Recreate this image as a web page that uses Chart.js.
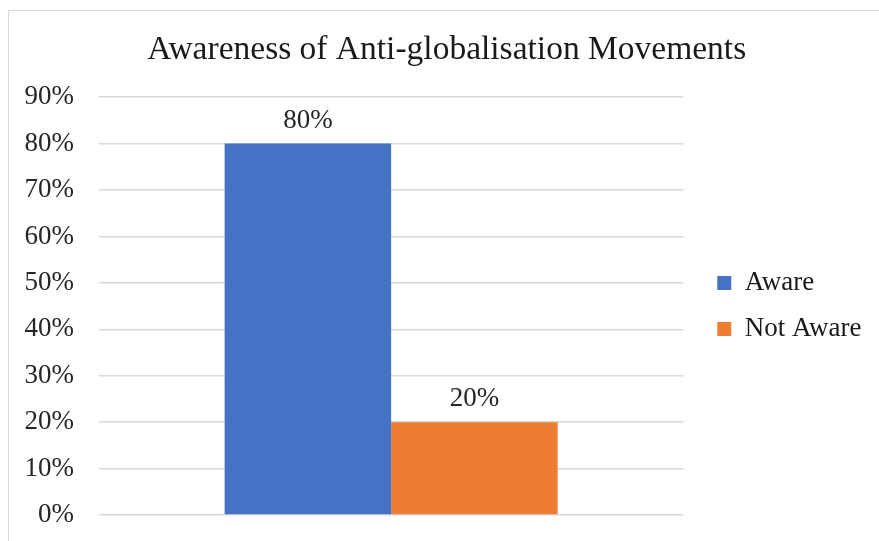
<!DOCTYPE html>
<html>
<head>
<meta charset="utf-8">
<script src="https://cdn.jsdelivr.net/npm/chart.js@4/dist/chart.umd.min.js"></script>
<style>
  body { margin: 0; background: #fff; overflow: hidden; }
  #wrap { position: relative; width: 879px; height: 541px; overflow: hidden; }
  #frame {
    position: absolute; left: 8px; top: 10px; width: 900px; height: 600px;
    border: 1px solid #d9d9d9; pointer-events: none;
  }
</style>
</head>
<body>
<div id="wrap">
  <canvas id="awarenessChart" width="900" height="541"></canvas>
  <div id="frame"></div>
</div>
<script>
// === Data ===
const categories = [''];
const seriesNames = ['Aware', 'Not Aware'];
const awareValues = [80];
const notAwareValues = [20];
const seriesColors = ['#4472C4', '#ED7D31'];
const yTicksMax = 90;

const serif = "'Liberation Serif', 'Times New Roman', serif";

// === Value labels above bars ===
const barLabels = {
  id: 'barLabels',
  afterDatasetsDraw(chart) {
    const ctx = chart.ctx;
    ctx.save();
    ctx.font = '27px ' + serif;
    ctx.fillStyle = '#262626';
    ctx.textAlign = 'center';
    ctx.textBaseline = 'alphabetic';
    chart.data.datasets.forEach((ds, i) => {
      chart.getDatasetMeta(i).data.forEach((bar, j) => {
        ctx.fillText(ds.data[j] + '%', bar.x, bar.y - 16);
      });
    });
    ctx.restore();
  }
};

// === Chart ===
const ctx = document.getElementById('awarenessChart').getContext('2d');
const awarenessChart = new Chart(ctx, {
  type: 'bar',
  data: {
    labels: categories,
    datasets: [
      { label: seriesNames[0], data: awareValues, backgroundColor: seriesColors[0] },
      { label: seriesNames[1], data: notAwareValues, backgroundColor: seriesColors[1] }
    ]
  },
  options: {
    responsive: false,
    animation: false,
    barPercentage: 1,
    categoryPercentage: 0.57,
    layout: { padding: { left: 22, right: 28.5, top: 0, bottom: 26 } },
    plugins: {
      tooltip: { enabled: false },
      title: {
        display: true,
        text: 'Awareness of Anti-globalisation Movements',
        color: '#1a1a1a',
        font: { family: serif, size: 33.5, weight: 'normal' },
        padding: { top: 30, bottom: 27 }
      },
      legend: {
        position: 'right',
        fullSize: false,
        maxWidth: 260,
        labels: {
          color: '#1a1a1a',
          font: { family: serif, size: 27 },
          boxWidth: 14,
          boxHeight: 14,
          padding: 19
        }
      }
    },
    scales: {
      x: {
        grid: { display: false },
        border: { display: false },
        ticks: { display: false },
        afterFit: s => { s.height = 0; }
      },
      y: {
        min: 0,
        max: yTicksMax,
        ticks: {
          stepSize: 10,
          padding: 0,
          color: '#262626',
          font: { family: serif, size: 27 },
          callback: v => v + '%'
        },
        grid: { color: '#d9d9d9', lineWidth: 1.5, tickLength: 25, tickColor: 'transparent' },
        border: { display: false },
        afterFit: s => { s.width = 77; }
      },
      // empty band between the plot and the legend
      gap: {
        position: 'right',
        display: true,
        ticks: { display: false },
        grid: { display: false },
        border: { display: false },
        afterFit: s => { s.width = 15; }
      }
    }
  },
  plugins: [barLabels]
});
</script>
</body>
</html>
